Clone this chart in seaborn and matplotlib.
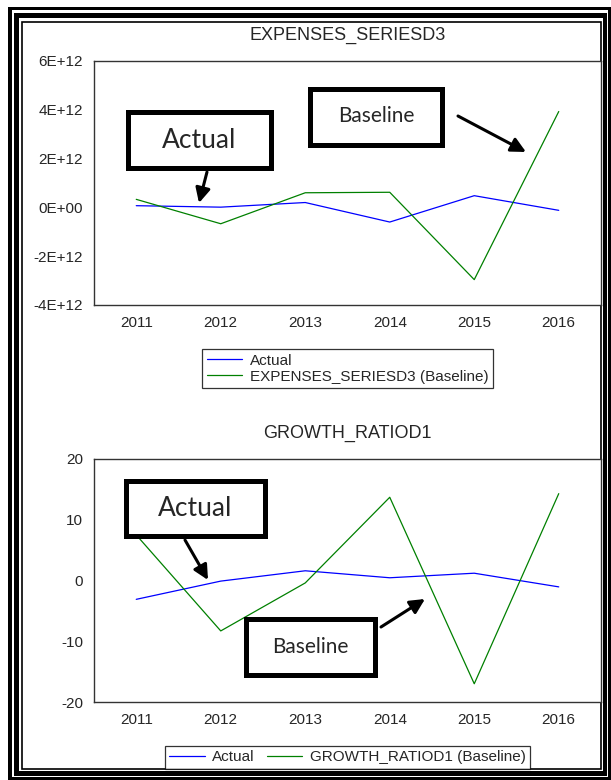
import matplotlib
matplotlib.use("Agg")
import matplotlib.pyplot as plt
from matplotlib.patches import Rectangle
import pandas as pd
import numpy as np
import seaborn as sns

# data
years = ['2011', '2012', '2013', '2014', '2015', '2016']
exp_actual = [0.07e12, 0.01e12, 0.20e12, -0.60e12, 0.48e12, -0.12e12]
exp_baseline = [0.33e12, -0.67e12, 0.60e12, 0.62e12, -2.96e12, 3.93e12]
growth_actual = [-3.1, -0.1, 1.6, 0.45, 1.2, -1.05]
growth_baseline = [7.5, -8.3, -0.4, 13.7, -17.0, 14.3]

exp_ticks = [-4e12, -2e12, 0, 2e12, 4e12, 6e12]
exp_ticklabels = ['-4E+12', '-2E+12', '0E+00', '2E+12', '4E+12', '6E+12']
growth_ticks = [-20, -10, 0, 10, 20]
growth_ticklabels = ['-20', '-10', '0', '10', '20']

sns.set_style('white')
plt.rcParams['font.family'] = ['Liberation Sans', 'DejaVu Sans']

W, H = 611, 780
fig = plt.figure(figsize=(W / 100, H / 100), dpi=100)


def fx(x):
    return x / W


def fy(y):
    return 1 - y / H


def px_rect(x0, y0, x1, y1, **kw):
    r = Rectangle((fx(x0), fy(y1)), fx(x1) - fx(x0), fy(y0) - fy(y1),
                  transform=fig.transFigure, **kw)
    fig.add_artist(r)


# page frame (thick double border + thin inner line)
px_rect(8, 7, 640, 800, facecolor='black', edgecolor='none', zorder=-10)
px_rect(12, 10, 608, 777, facecolor='white', edgecolor='none', zorder=-9)
px_rect(14, 13, 606.5, 775.5, facecolor='black', edgecolor='none', zorder=-8)
px_rect(19, 18, 603, 771, facecolor='white', edgecolor='none', zorder=-7)
px_rect(22, 21.5, 601, 768.5, facecolor='none', edgecolor='black', lw=1.2, zorder=-6)


def make_panel(rect, title, actual, baseline, base_name, ticks, ticklabels, ylim, ncol):
    ax = fig.add_axes(rect)
    df = pd.DataFrame({
        'year': years * 2,
        'value': list(actual) + list(baseline),
        'series': ['Actual'] * len(years) + [base_name] * len(years),
    })
    sns.lineplot(data=df, x='year', y='value', hue='series',
                 palette=['#0000ff', '#008000'], linewidth=0.9, ax=ax, legend=False)
    ax.set_xlim(-0.5, len(years) - 0.5)
    ax.set_ylim(*ylim)
    ax.set_xticks(range(len(years)))
    ax.set_xticklabels(years, fontsize=11)
    ax.set_xticks(np.arange(-0.5, len(years)), minor=True)
    ax.tick_params(axis='x', which='major', length=0, pad=8)
    ax.tick_params(axis='x', which='minor', length=6, direction='out', width=0.9, color='#333333')
    ax.set_yticks(ticks)
    ax.set_yticklabels(ticklabels, fontsize=11)
    ax.tick_params(axis='y', length=7, direction='out', width=0.9, color='#333333', pad=1)
    ax.set_xlabel('')
    ax.set_ylabel('')
    ax.set_title(title, fontsize=13, pad=15)
    for s in ax.spines.values():
        s.set_color('#333333')
        s.set_linewidth(1.0)
    handles = ax.get_lines()[:2]
    leg = ax.legend(handles, ['Actual', base_name + ' (Baseline)'], loc='upper center',
                    bbox_to_anchor=(0.5, -0.18), borderaxespad=0, ncol=ncol, fontsize=11,
                    frameon=True, fancybox=False, edgecolor='black', handlelength=2.3,
                    handletextpad=0.5, labelspacing=0.15, columnspacing=0.8, borderpad=0.3)
    leg.get_frame().set_linewidth(0.9)
    return ax


ax1 = make_panel([fx(94), fy(305), fx(601) - fx(94), fy(61) - fy(305)], 'EXPENSES_SERIESD3',
                 exp_actual, exp_baseline, 'EXPENSES_SERIESD3', exp_ticks, exp_ticklabels,
                 (-4e12, 6e12), 1)
ax2 = make_panel([fx(94), fy(702), fx(601) - fx(94), fy(459) - fy(702)], 'GROWTH_RATIOD1',
                 growth_actual, growth_baseline, 'GROWTH_RATIOD1', growth_ticks, growth_ticklabels,
                 (-20, 20), 2)


def callout(x0, y0, x1, y1, text, size):
    px_rect(x0 + 2.5, y0 + 2.5, x1 - 2.5, y1 - 2.5, facecolor='white', edgecolor='black',
            lw=3.6, zorder=5)
    fig.text(fx((x0 + x1) / 2), fy((y0 + y1) / 2), text, ha='center', va='center',
             fontsize=size, family=['Lato', 'DejaVu Sans'], zorder=6)


def arrow(xs, ys, xt, yt):
    fig.add_artist(matplotlib.patches.FancyArrowPatch(
        (fx(xs), fy(ys)), (fx(xt), fy(yt)), transform=fig.transFigure,
        arrowstyle='-|>', mutation_scale=22, lw=2.2, color='black', zorder=7,
        shrinkA=0, shrinkB=0))


callout(125, 110, 273, 170, 'Actual', 19)
callout(308, 86, 445, 147, 'Baseline', 15)
arrow(207, 172, 199, 203)
arrow(458, 116, 526, 152)

callout(123, 478, 267, 538, 'Actual', 19)
callout(243, 617, 377, 677, 'Baseline', 15)
arrow(185, 540, 208, 580)
arrow(381, 627, 425, 599)

fig.savefig('out.png', dpi=100)
